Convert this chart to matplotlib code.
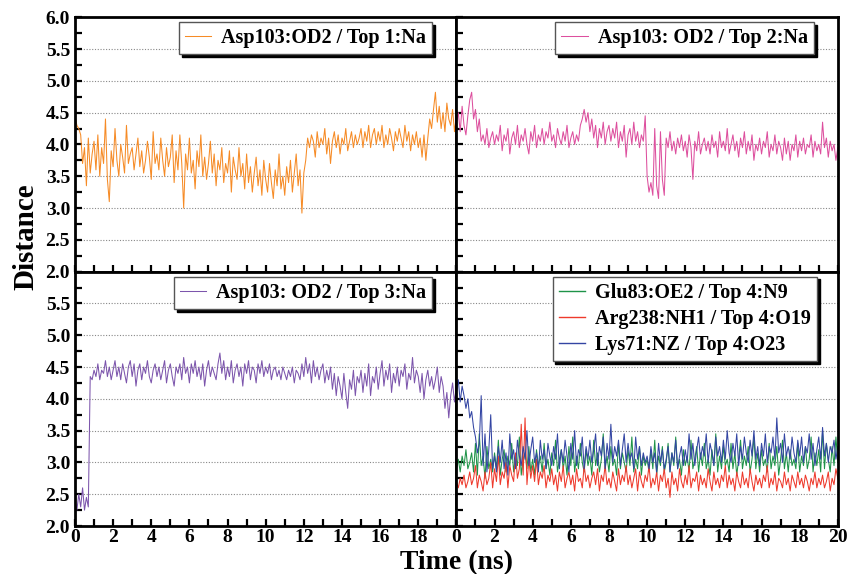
import matplotlib
import matplotlib.pyplot as plt
import numpy as np
from matplotlib.ticker import MultipleLocator

matplotlib.use("Agg")

plt.rcParams["font.family"] = ["Liberation Serif", "DejaVu Serif"]
plt.rcParams["font.weight"] = "bold"

# time axis, 0.1 ns sampling
time_ns = np.round(np.arange(0, 201) * 0.1, 1)

asp103_top1 = [
    4.45, 4.30, 4.25, 4.15, 3.70, 3.95, 3.35, 4.10, 3.55, 3.85,
    4.05, 3.60, 4.15, 3.50, 3.95, 3.70, 4.40, 3.45, 3.10, 3.90,
    3.65, 4.25, 3.75, 3.50, 4.00, 3.80, 3.55, 4.30, 3.70, 3.85,
    3.95, 3.60, 3.85, 4.10, 3.65, 3.90, 3.55, 3.75, 4.05, 3.80,
    3.45, 4.20, 3.70, 3.85, 3.60, 4.10, 3.75, 3.50, 3.95, 3.65,
    3.80, 4.15, 3.40, 3.90, 3.60, 4.15, 3.70, 3.00, 3.85, 3.60,
    4.10, 3.55, 3.75, 3.30, 3.90, 3.65, 4.15, 3.50, 3.80, 3.45,
    3.70, 4.05, 3.55, 3.85, 3.35, 3.75, 3.60, 3.95, 3.40, 3.70,
    3.55, 3.90, 3.25, 3.80, 3.60, 3.45, 3.95, 3.50, 3.70, 3.30,
    3.85, 3.40, 3.65, 3.25, 3.55, 3.80, 3.35, 3.60, 3.20, 3.75,
    3.45, 3.25, 3.70, 3.40, 3.15, 3.60, 3.35, 3.85, 3.30, 3.50,
    3.20, 3.65, 3.40, 3.75, 3.25, 3.55, 3.85, 3.35, 3.60, 2.92,
    3.55, 3.75, 4.10, 3.95, 4.15, 4.05, 3.80, 4.20, 3.95, 4.10,
    4.00, 4.25, 3.85, 4.10, 3.70, 4.05, 4.20, 3.95, 4.15, 3.85,
    4.10, 4.00, 4.25, 3.90, 4.05, 4.20, 3.95, 4.15, 4.00, 4.10,
    4.25, 3.95, 4.20, 4.05, 4.30, 3.95, 4.15, 4.25, 4.00, 4.20,
    4.05, 4.30, 3.95, 4.15, 4.00, 4.25, 4.10, 3.90, 4.20, 4.05,
    4.25, 4.10, 3.95, 4.30, 4.05, 4.20, 3.90, 4.15, 4.00, 4.20,
    3.95, 4.10, 3.80, 4.15, 3.75, 4.10, 4.40, 4.25, 4.55, 4.82,
    4.35, 4.60, 4.25, 4.50, 4.20, 4.65, 4.40, 4.30, 4.55, 4.20,
    4.45,
]

asp103_top2 = [
    4.35, 4.50, 4.20, 4.60, 4.30, 4.15, 4.45, 4.70, 4.82, 4.40,
    4.55, 4.20, 4.40, 4.05, 4.15, 4.00, 4.25, 3.95, 4.10, 4.20,
    4.00, 4.15, 4.05, 4.30, 3.90, 4.15, 4.05, 4.25, 3.85, 4.10,
    4.20, 4.00, 4.30, 3.95, 4.15, 4.05, 4.25, 4.00, 3.85, 4.20,
    4.05, 4.30, 3.95, 4.15, 4.05, 4.25, 4.00, 4.20, 4.10, 4.35,
    4.05, 4.15, 3.95, 4.25, 4.10, 4.00, 4.20, 4.05, 4.30, 3.95,
    4.10, 4.20, 4.00, 4.15, 4.05, 4.30, 4.40, 4.55, 4.35, 4.50,
    4.20, 4.40, 4.10, 4.30, 3.95, 4.25, 4.10, 4.35, 4.00, 4.20,
    4.30, 4.05, 4.25, 4.10, 4.35, 3.95, 4.20, 4.05, 4.30, 3.80,
    4.15, 4.25, 4.00, 4.35, 4.05, 4.20, 3.95, 4.15, 4.05, 4.45,
    3.50, 3.25, 3.40, 3.20, 4.25, 3.35, 3.15, 4.20, 3.45, 3.20,
    4.10, 3.95, 4.20, 3.90, 4.05, 3.85, 4.10, 3.95, 4.15, 3.90,
    4.05, 3.80, 4.15, 3.95, 3.45, 4.05, 3.90, 4.20, 3.85, 4.00,
    4.10, 3.90, 4.05, 3.85, 4.15, 3.95, 4.05, 3.80, 4.20, 3.95,
    4.05, 3.90, 4.25, 3.85, 4.00, 4.15, 3.90, 4.05, 3.80, 4.10,
    3.95, 4.20, 3.85, 4.05, 3.90, 4.15, 3.75, 4.00, 3.90, 4.10,
    3.85, 4.05, 3.95, 4.20, 3.80, 4.00, 3.90, 4.15, 3.85, 4.05,
    3.95, 3.75, 4.10, 3.85, 4.05, 3.75, 4.00, 3.90, 4.15, 3.80,
    4.05, 3.90, 4.10, 3.85, 4.00, 3.95, 4.15, 3.80, 4.05, 3.90,
    4.00, 3.85, 4.35, 3.95, 4.10, 3.80, 4.05, 3.90, 4.00, 3.75,
    3.95,
]

asp103_top3 = [
    2.40, 2.25, 2.50, 2.30, 2.60, 2.25, 2.45, 2.30, 4.35, 4.30,
    4.45, 4.35, 4.55, 4.30, 4.45, 4.40, 4.60, 4.35, 4.50, 4.30,
    4.45, 4.60, 4.35, 4.50, 4.30, 4.55, 4.40, 4.25, 4.50, 4.60,
    4.35, 4.55, 4.20, 4.45, 4.55, 4.30, 4.50, 4.40, 4.60, 4.35,
    4.25, 4.45, 4.55, 4.35, 4.50, 4.30, 4.45, 4.60, 4.25, 4.45,
    4.55, 4.35, 4.20, 4.50, 4.40, 4.55, 4.30, 4.65, 4.40, 4.50,
    4.25, 4.55, 4.40, 4.60, 4.35, 4.50, 4.30, 4.55, 4.20, 4.45,
    4.60, 4.35, 4.50, 4.40, 4.30, 4.55, 4.72, 4.40, 4.60, 4.30,
    4.50, 4.35, 4.60, 4.25, 4.45, 4.55, 4.35, 4.50, 4.20, 4.55,
    4.40, 4.60, 4.30, 4.50, 4.45, 4.25, 4.55, 4.40, 4.60, 4.35,
    4.50, 4.40, 4.55, 4.30, 4.45, 4.50, 4.35, 4.45, 4.30, 4.50,
    4.40, 4.30, 4.45, 4.35, 4.50, 4.25, 4.45, 4.40, 4.30, 4.55,
    4.35, 4.65, 4.40, 4.55, 4.25, 4.60, 4.35, 4.50, 4.30, 4.45,
    4.55, 4.25, 4.45, 4.30, 4.50, 4.15, 4.40, 4.05, 4.35, 4.20,
    4.00, 4.40, 4.10, 3.85, 4.30, 4.15, 4.45, 4.05, 4.35, 4.25,
    4.45, 4.10, 4.40, 4.20, 4.55, 4.05, 4.35, 4.25, 4.50, 4.15,
    4.40, 4.60, 4.20, 4.45, 4.30, 4.55, 4.10, 4.40, 4.25, 4.50,
    4.20, 4.45, 4.35, 4.55, 4.15, 4.40, 4.30, 4.65, 4.25, 4.45,
    4.35, 4.10, 4.40, 4.00, 4.30, 4.45, 4.20, 4.35, 4.15, 4.30,
    4.50, 4.10, 4.35, 4.20, 3.85, 4.10, 3.70, 4.05, 4.25, 3.95,
    4.20,
]

glu83_n9 = [
    2.90, 3.05, 2.85, 3.10, 2.95, 3.20, 2.90, 3.00, 3.15, 2.85,
    3.30, 2.80, 3.45, 2.95, 3.10, 2.75, 3.25, 2.90, 3.05, 2.85,
    3.15, 2.90, 3.35, 2.80, 3.05, 3.20, 2.85, 3.10, 2.95, 3.30,
    2.85, 3.10, 2.95, 3.40, 2.80, 3.05, 3.15, 2.90, 3.25, 2.85,
    3.05, 2.80, 3.20, 2.95, 3.10, 2.85, 3.30, 2.90, 3.05, 2.80,
    3.15, 2.95, 3.35, 2.85, 3.05, 3.20, 2.90, 3.10, 2.80, 3.25,
    2.95, 3.40, 2.85, 3.10, 2.90, 3.30, 3.00, 2.85, 3.20, 2.95,
    3.10, 2.80, 3.35, 2.95, 3.15, 2.85, 3.05, 3.45, 2.90, 3.10,
    2.85, 3.25, 2.95, 3.05, 2.80, 3.30, 2.90, 3.15, 3.00, 2.85,
    3.20, 2.95, 3.40, 2.85, 3.05, 2.90, 3.25, 2.80, 3.10, 2.95,
    3.05, 2.85, 3.20, 2.90, 3.35, 2.80, 3.10, 2.95, 3.25, 2.85,
    3.00, 3.30, 2.85, 3.15, 2.95, 3.40, 2.90, 3.05, 2.80, 3.20,
    2.95, 3.10, 2.85, 3.35, 2.90, 3.05, 3.25, 2.85, 3.15, 2.95,
    3.30, 2.90, 3.05, 2.80, 3.20, 2.95, 3.45, 2.85, 3.10, 2.90,
    3.25, 2.95, 3.05, 2.85, 3.30, 2.90, 3.15, 2.80, 3.05, 3.35,
    2.90, 3.10, 2.95, 3.25, 2.85, 3.05, 3.40, 2.90, 3.15, 2.85,
    3.20, 2.95, 3.05, 2.85, 3.30, 2.90, 3.10, 2.95, 3.25, 2.80,
    3.05, 3.35, 2.90, 3.15, 2.85, 3.20, 2.95, 3.05, 2.90, 3.30,
    2.85, 3.10, 2.95, 3.25, 2.90, 3.05, 3.40, 2.85, 3.15, 2.95,
    3.20, 2.85, 3.50, 2.90, 3.30, 3.05, 2.85, 3.25, 2.95, 3.40,
    3.00,
]

arg238_o19 = [
    2.70, 2.60, 2.75, 2.65, 2.80, 2.60, 2.70, 2.85, 2.65, 2.75,
    2.95, 2.60, 2.80, 2.70, 2.55, 2.85, 2.65, 2.75, 3.00, 2.60,
    2.90, 2.70, 3.10, 2.65, 2.85, 2.75, 3.00, 2.60, 2.95, 2.80,
    2.70, 3.15, 2.75, 2.90, 3.60, 2.80, 3.70, 2.65, 3.05, 2.75,
    2.95, 2.70, 3.05, 2.65, 2.85, 2.75, 2.95, 2.60, 2.80, 2.70,
    2.90, 2.65, 2.80, 2.55, 2.85, 2.70, 2.95, 2.60, 2.75, 2.85,
    2.65, 2.80, 2.55, 2.90, 2.70, 2.75, 2.60, 2.95, 2.70, 2.80,
    2.60, 2.75, 2.85, 2.65, 2.90, 2.55, 2.80, 2.70, 2.95, 2.65,
    2.75, 2.60, 2.85, 2.70, 2.55, 2.90, 2.65, 2.80, 2.70, 2.95,
    2.65, 2.80, 2.60, 2.75, 2.90, 2.55, 2.85, 2.70, 2.60, 2.80,
    2.70, 2.95, 2.60, 2.75, 2.65, 2.85, 2.55, 2.80, 2.70, 2.90,
    2.60, 2.75, 2.45, 2.85, 2.65, 2.75, 2.55, 2.90, 2.70, 2.60,
    2.80, 2.65, 2.95, 2.60, 2.75, 2.70, 2.85, 2.55, 2.80, 2.65,
    2.75, 2.60, 2.90, 2.70, 2.55, 2.85, 2.65, 2.75, 2.60, 2.80,
    2.70, 2.95, 2.60, 2.80, 2.65, 2.75, 2.55, 2.85, 2.70, 2.60,
    2.85, 2.65, 2.75, 2.60, 2.90, 2.70, 2.55, 2.80, 2.65, 2.75,
    2.60, 2.80, 2.70, 2.95, 2.60, 2.75, 2.65, 2.85, 2.55, 2.75,
    2.70, 2.60, 2.85, 2.65, 2.75, 2.55, 2.80, 2.70, 2.60, 2.85,
    2.65, 2.75, 2.60, 2.80, 2.70, 2.55, 2.75, 2.65, 2.85, 2.60,
    2.75, 2.65, 2.80, 2.60, 2.70, 2.85, 2.55, 2.75, 2.65, 2.90,
    2.75,
]

lys71_o23 = [
    4.10, 4.30, 3.95, 4.20, 4.05, 3.85, 4.00, 3.70, 3.80, 3.55,
    3.40, 3.15, 3.30, 4.05, 2.95, 3.45, 2.85, 3.20, 3.75, 2.90,
    3.10, 2.85, 3.25, 3.00, 3.35, 2.90, 3.15, 2.80, 3.45, 3.05,
    3.20, 2.90, 3.35, 3.10, 2.95, 3.25, 3.05, 3.50, 2.95, 3.20,
    3.40, 3.00, 3.15, 2.85, 3.35, 3.05, 3.20, 2.90, 3.30, 3.10,
    2.95, 3.25, 3.05, 3.45, 2.90, 3.20, 3.00, 3.35, 3.10, 2.85,
    3.30, 3.05, 3.50, 2.95, 3.20, 3.10, 3.40, 2.90, 3.25, 3.05,
    3.35, 3.00, 3.20, 3.45, 2.95, 3.25, 3.10, 3.40, 2.90, 3.30,
    3.05, 3.60, 3.00, 3.25, 3.10, 3.35, 2.95, 3.20, 3.45, 3.00,
    3.30, 3.05, 3.15, 2.90, 3.40, 3.05, 3.25, 2.95, 3.15, 3.00,
    3.10, 2.90, 3.25, 3.00, 3.15, 2.85, 3.30, 3.00, 3.20, 2.90,
    3.05, 3.25, 2.85, 3.15, 3.00, 3.35, 2.90, 3.10, 3.25, 2.95,
    3.20, 3.00, 3.45, 3.05, 3.30, 2.95, 3.20, 3.40, 3.05, 3.25,
    3.10, 3.45, 3.00, 3.30, 3.15, 2.95, 3.40, 3.10, 3.25, 3.00,
    3.35, 3.05, 3.50, 3.15, 3.00, 3.30, 3.10, 3.45, 2.95, 3.25,
    3.05, 3.40, 3.15, 3.00, 3.35, 3.10, 3.50, 3.05, 3.25, 2.95,
    3.30, 3.10, 3.45, 3.00, 3.25, 3.15, 3.40, 3.05, 3.70, 3.15,
    3.30, 3.00, 3.45, 3.10, 3.25, 3.05, 3.40, 3.15, 3.00, 3.35,
    3.10, 3.40, 3.00, 3.25, 3.15, 3.45, 3.05, 3.30, 2.95, 3.20,
    3.40, 3.05, 3.55, 3.10, 3.30, 3.00, 3.25, 3.15, 3.35, 3.05,
    3.25,
]

LBL_TOP1 = "Asp103:OD2 / Top 1:Na"
LBL_TOP2 = "Asp103: OD2 / Top 2:Na"
LBL_TOP3 = "Asp103: OD2 / Top 3:Na"
LBL_GLU = "Glu83:OE2 / Top 4:N9"
LBL_ARG = "Arg238:NH1 / Top 4:O19"
LBL_LYS = "Lys71:NZ / Top 4:O23"

fig, axes = plt.subplots(2, 2, figsize=(8.48, 5.74), dpi=100)
fig.subplots_adjust(left=0.0884, right=0.988, top=0.970, bottom=0.0836,
                    wspace=0, hspace=0)
(ax1, ax2), (ax3, ax4) = axes

lw = 0.75
ax1.plot(time_ns, asp103_top1, color="#F68B26", lw=lw, label=LBL_TOP1)
ax2.plot(time_ns, asp103_top2, color="#DD4F9E", lw=lw, label=LBL_TOP2)
ax3.plot(time_ns, asp103_top3, color="#7C55AC", lw=lw, label=LBL_TOP3)
ax4.plot(time_ns, glu83_n9, color="#1E9348", lw=lw, label=LBL_GLU)
ax4.plot(time_ns, arg238_o19, color="#EE3A2C", lw=lw, label=LBL_ARG)
ax4.plot(time_ns, lys71_o23, color="#3345A3", lw=lw, label=LBL_LYS)

for ax in axes.flat:
    ax.set_xlim(0, 20)
    ax.set_ylim(2.0, 6.0)
    ax.xaxis.set_major_locator(MultipleLocator(2))
    ax.xaxis.set_minor_locator(MultipleLocator(1))
    ax.yaxis.set_major_locator(MultipleLocator(0.5))
    ax.yaxis.set_minor_locator(MultipleLocator(0.25))
    ax.tick_params(which="both", direction="in", width=1.6, labelsize=14,
                   top=False, right=False, length=5)
    ax.tick_params(axis="x", which="major", pad=2)
    ax.grid(axis="y", which="major", linestyle=(0, (1, 1.5)),
            color="#888888", lw=0.8)
    ax.set_axisbelow(True)
    for sp in ax.spines.values():
        sp.set_linewidth(2.0)

# shared tick labels: only outer edges carry them
for ax in (ax1, ax2):
    ax.tick_params(labelbottom=False)
for ax in (ax2, ax4):
    ax.tick_params(labelleft=False)

yt = np.arange(2.0, 6.01, 0.5)
ax1.set_yticks(yt)
ax1.set_yticklabels([f"{v:.1f}" for v in yt])
ax3.set_yticks(yt)
ax3.set_yticklabels([f"{v:.1f}" for v in yt[:-1]] + [""])
ax3.set_xticks(np.arange(0, 21, 2))
ax3.set_xticklabels([str(v) for v in range(0, 20, 2)] + [""])
ax4.set_xticks(np.arange(0, 21, 2))
ax4.set_xticklabels([str(v) for v in range(0, 21, 2)])
for ax in (ax1, ax3, ax4):
    for lab in ax.get_xticklabels() + ax.get_yticklabels():
        lab.set_fontweight("bold")

leg_kw = dict(prop={"weight": "bold", "size": 14.5}, fancybox=False,
              edgecolor="#555555", framealpha=1,
              shadow={"color": "black", "alpha": 1},
              handlelength=1.3, handletextpad=0.5, borderpad=0.3,
              borderaxespad=0)
ax1.legend(loc="upper right", bbox_to_anchor=(0.937, 0.98),
           labelspacing=0.15, **leg_kw)
ax2.legend(loc="upper right", bbox_to_anchor=(0.937, 0.98),
           labelspacing=0.15, **leg_kw)
ax3.legend(loc="upper right", bbox_to_anchor=(0.937, 0.98),
           labelspacing=0.15, **leg_kw)
leg4 = ax4.legend(loc="upper right", bbox_to_anchor=(0.945, 0.98),
                  labelspacing=0.3, **leg_kw)
for h in leg4.get_lines():
    h.set_linewidth(1.0)

fig.text(0.030, 0.587, "Distance", rotation=90, ha="center", va="center",
         fontsize=21, fontweight="bold")
fig.text(0.538, 0.008, "Time (ns)", ha="center", va="baseline",
         fontsize=20, fontweight="bold")

fig.savefig("out.png", dpi=100)
